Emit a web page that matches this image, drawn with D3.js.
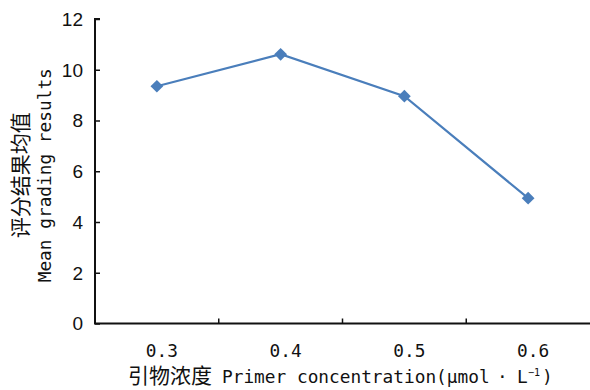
<!DOCTYPE html>
<html>
<head>
<meta charset="utf-8">
<script src="https://cdn.jsdelivr.net/npm/d3@7"></script>
<style>
  html, body { margin: 0; padding: 0; background: #fff; }
  svg { display: block; }
</style>
</head>
<body>
<svg id="chart" width="590" height="390"></svg>
<script>
// Primer concentration (µmol·L⁻¹) vs. mean grading score
const categories = ["0.3", "0.4", "0.5", "0.6"];
const meanScores = [9.35, 10.61, 8.96, 4.94];
const yTicks = [0, 2, 4, 6, 8, 10, 12];

const width = 590, height = 390;
const margin = { top: 19, right: 0, bottom: 66.5, left: 95 };
const monoFont = "'DejaVu Sans Mono', 'Noto Sans CJK SC', monospace";
const sansFont = "'Liberation Sans', Arial, sans-serif";
const cjkFont = "'Noto Sans CJK SC', sans-serif";
const blue = "#4a7ebb";
const ink = "#111";

const svg = d3.select("#chart");

const x = d3.scaleBand()
  .domain(categories)
  .range([margin.left, width - margin.right])
  .paddingInner(0).paddingOuter(0);

const y = d3.scaleLinear()
  .domain([0, 12])
  .range([height - margin.bottom, margin.top]);

// Y axis: ticks point inward
const yAxis = svg.append("g")
  .attr("transform", `translate(${margin.left},0)`)
  .call(d3.axisRight(y).tickValues(yTicks).tickSize(5).tickFormat(""));
yAxis.select(".domain").attr("stroke", ink).attr("stroke-width", 2)
  .attr("d", `M5,${y(12)}H0V${y(0)}`);
yAxis.selectAll(".tick line").attr("stroke", ink).attr("stroke-width", 1.5);

svg.append("g").selectAll("text")
  .data(yTicks).join("text")
  .attr("x", margin.left - 12)
  .attr("y", d => y(d))
  .attr("dy", "0.36em")
  .attr("text-anchor", "end")
  .style("font-family", sansFont)
  .style("font-size", "19px")
  .attr("fill", ink)
  .text(d => d);

// X axis: category boundary ticks pointing up into the plot
const boundaries = categories.slice(1).map(c => x(c));
const xAxisG = svg.append("g");
xAxisG.append("line")
  .attr("x1", margin.left - 1).attr("x2", width)
  .attr("y1", y(0)).attr("y2", y(0))
  .attr("stroke", ink).attr("stroke-width", 2);
xAxisG.selectAll("line.tick")
  .data(boundaries).join("line")
  .attr("class", "tick")
  .attr("x1", d => d).attr("x2", d => d)
  .attr("y1", y(0)).attr("y2", y(0) - 5)
  .attr("stroke", ink).attr("stroke-width", 1.5);

xAxisG.selectAll("text")
  .data(categories).join("text")
  .attr("x", d => x(d) + x.bandwidth() / 2 + 5)
  .attr("y", y(0) + 33)
  .attr("text-anchor", "middle")
  .style("font-family", monoFont)
  .style("font-size", "17.8px")
  .attr("fill", ink)
  .text(d => d);

// X axis title
const xTitle = svg.append("text")
  .attr("y", 383)
  .style("font-family", monoFont)
  .style("font-size", "17.8px")
  .attr("fill", ink);
xTitle.append("tspan").attr("x", 128)
  .style("font-family", cjkFont).style("font-size", "21px").text("引物浓度");
xTitle.append("tspan").attr("x", 222).text("Primer concentration(µmol");
xTitle.append("tspan").attr("x", 497).text("·");
xTitle.append("tspan").attr("x", 517).text("L");
xTitle.append("tspan").attr("x", 528).attr("dy", -7).style("font-size", "10px").text("−1");
xTitle.append("tspan").attr("x", 542).attr("dy", 7).text(")");

// Y axis title (two lines, rotated)
const yTitle = svg.append("g")
  .attr("transform", `translate(0,${(y(0) + y(12)) / 2 + 4}) rotate(-90)`);
yTitle.append("text")
  .attr("x", 0).attr("y", 28)
  .attr("text-anchor", "middle")
  .style("font-family", cjkFont)
  .style("font-size", "21px")
  .attr("fill", ink)
  .text("评分结果均值");
yTitle.append("text")
  .attr("x", 0).attr("y", 51)
  .attr("text-anchor", "middle")
  .style("font-family", monoFont)
  .style("font-size", "17.8px")
  .attr("fill", ink)
  .text("Mean grading results");

// Series line and diamond markers
const cx = d => x(d) + x.bandwidth() / 2;
const line = d3.line()
  .x((d, i) => cx(categories[i]))
  .y(d => y(d));

svg.append("path")
  .datum(meanScores)
  .attr("d", line)
  .attr("fill", "none")
  .attr("stroke", blue)
  .attr("stroke-width", 2.2);

svg.append("g").selectAll("path")
  .data(meanScores).join("path")
  .attr("d", d3.symbol(d3.symbolSquare, 81)())
  .attr("transform", (d, i) => `translate(${cx(categories[i])},${y(d)}) rotate(45)`)
  .attr("fill", blue);
</script>
</body>
</html>
